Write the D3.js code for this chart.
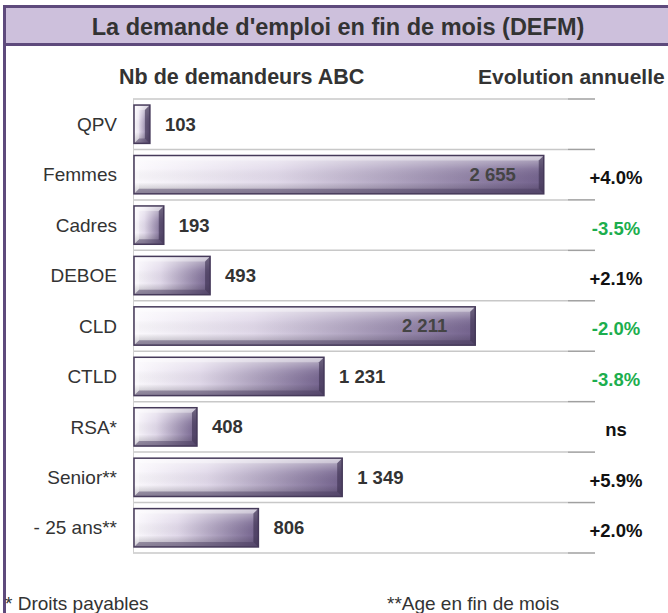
<!DOCTYPE html>
<html>
<head>
<meta charset="utf-8">
<script src="https://cdn.jsdelivr.net/npm/d3@7"></script>
<style>
  html, body { margin: 0; padding: 0; background: #fff; }
  svg { display: block; font-family: Arial, "Liberation Sans", sans-serif; }
</style>
</head>
<body>
<div id="chart"></div>
<script>
const categories = ['QPV', 'Femmes', 'Cadres', 'DEBOE', 'CLD', 'CTLD', 'RSA*', 'Senior**', '- 25 ans**'];
const values = [103, 2655, 193, 493, 2211, 1231, 408, 1349, 806];
const valueLabels = ['103', '2 655', '193', '493', '2 211', '1 231', '408', '1 349', '806'];
const evolutions = ['', '+4.0%', '-3.5%', '+2.1%', '-2.0%', '-3.8%', 'ns', '+5.9%', '+2.0%'];

const width = 668, height = 613;
const purple = '#5e4a7c';

const svg = d3.select('#chart').append('svg')
    .attr('width', width)
    .attr('height', height);

const defs = svg.append('defs');

// Horizontal shading: pale at the left, dark purple at the right end
const hGrad = defs.append('linearGradient').attr('id', 'barH')
    .attr('x1', 0).attr('x2', 1).attr('y1', 0).attr('y2', 0);
hGrad.append('stop').attr('offset', '0%').attr('stop-color', '#fbf9fd');
hGrad.append('stop').attr('offset', '35%').attr('stop-color', '#e0d8e9');
hGrad.append('stop').attr('offset', '100%').attr('stop-color', '#73628d');

// Vertical shine on top of it
const vGrad = defs.append('linearGradient').attr('id', 'barV')
    .attr('x1', 0).attr('x2', 0).attr('y1', 0).attr('y2', 1);
vGrad.append('stop').attr('offset', '0%').attr('stop-color', '#fff').attr('stop-opacity', 0.55);
vGrad.append('stop').attr('offset', '35%').attr('stop-color', '#fff').attr('stop-opacity', 0.1);
vGrad.append('stop').attr('offset', '70%').attr('stop-color', '#000').attr('stop-opacity', 0);
vGrad.append('stop').attr('offset', '100%').attr('stop-color', '#2a1f3a').attr('stop-opacity', 0.3);

// Frame: header box and left border
svg.append('rect')
    .attr('x', 4.5).attr('y', 6.5)
    .attr('width', width + 10).attr('height', 38)
    .attr('fill', '#cdc0dc')
    .attr('stroke', purple)
    .attr('stroke-width', 3);
svg.append('line')
    .attr('x1', 4.5).attr('x2', 4.5)
    .attr('y1', 44).attr('y2', height)
    .attr('stroke', purple)
    .attr('stroke-width', 3);

svg.append('text')
    .attr('x', 338).attr('y', 35)
    .attr('text-anchor', 'middle')
    .attr('font-size', '23.5px')
    .attr('font-weight', 'bold')
    .attr('fill', '#333')
    .text("La demande d'emploi en fin de mois (DEFM)");

// Column headers
svg.append('text')
    .attr('x', 119).attr('y', 84)
    .attr('font-size', '21.5px')
    .attr('font-weight', 'bold')
    .attr('fill', '#333')
    .text('Nb de demandeurs ABC');
svg.append('text')
    .attr('x', 478).attr('y', 84)
    .attr('font-size', '21px')
    .attr('font-weight', 'bold')
    .attr('fill', '#333')
    .text('Evolution annuelle');

// Scales
const x = d3.scaleLinear()
    .domain([0, 3000])
    .range([134, 597]);

const y = d3.scaleBand()
    .domain(categories)
    .range([99, 553])
    .paddingInner(0.24)
    .paddingOuter(0.12);

const step = y.step();

// Grid lines between rows
const gridY = d3.range(categories.length + 1).map(i => y.range()[0] + i * step);
svg.append('g')
    .selectAll('line')
    .data(gridY)
    .enter()
    .append('line')
    .attr('x1', 133).attr('x2', 568)
    .attr('y1', d => d).attr('y2', d => d)
    .attr('stroke', '#c8c8c8')
    .attr('stroke-width', 1.5);
svg.append('g')
    .selectAll('line')
    .data(gridY)
    .enter()
    .append('line')
    .attr('x1', 568).attr('x2', 595)
    .attr('y1', d => d).attr('y2', d => d)
    .attr('stroke', '#a0a0a0')
    .attr('stroke-width', 1.5);
svg.append('line')
    .attr('x1', 133.5).attr('x2', 133.5)
    .attr('y1', gridY[0]).attr('y2', gridY[gridY.length - 1])
    .attr('stroke', '#d0d0d0');

// Category labels
svg.append('g')
    .selectAll('text')
    .data(categories)
    .enter()
    .append('text')
    .attr('x', 117)
    .attr('y', d => y(d) + y.bandwidth() / 2)
    .attr('dy', '0.35em')
    .attr('text-anchor', 'end')
    .attr('font-size', '19px')
    .attr('fill', '#333')
    .text(d => d);

// Bevelled bars
const rows = categories.map((c, i) => ({cat: c, value: values[i], label: valueLabels[i], evo: evolutions[i]}));
const bev = 5;

const bars = svg.append('g')
    .selectAll('g')
    .data(rows)
    .enter()
    .append('g');

bars.append('rect')
    .attr('x', x(0))
    .attr('y', d => y(d.cat))
    .attr('width', d => x(d.value) - x(0))
    .attr('height', y.bandwidth())
    .attr('fill', 'url(#barH)');
bars.append('rect')
    .attr('x', x(0))
    .attr('y', d => y(d.cat))
    .attr('width', d => x(d.value) - x(0))
    .attr('height', y.bandwidth())
    .attr('fill', 'url(#barV)');

// top bevel
bars.append('polygon')
    .attr('points', d => {
        const x0 = x(0), x1 = x(d.value), y0 = y(d.cat);
        return [[x0, y0], [x1, y0], [x1 - bev, y0 + bev], [x0 + bev, y0 + bev]].join(' ');
    })
    .attr('fill', '#fff').attr('fill-opacity', 0.35);
// bottom bevel
bars.append('polygon')
    .attr('points', d => {
        const x0 = x(0), x1 = x(d.value), y1 = y(d.cat) + y.bandwidth();
        return [[x0, y1], [x1, y1], [x1 - bev, y1 - bev], [x0 + bev, y1 - bev]].join(' ');
    })
    .attr('fill', '#4a3c60').attr('fill-opacity', 0.45);
// left bevel
bars.append('polygon')
    .attr('points', d => {
        const x0 = x(0), y0 = y(d.cat), y1 = y0 + y.bandwidth();
        return [[x0, y0], [x0 + bev, y0 + bev], [x0 + bev, y1 - bev], [x0, y1]].join(' ');
    })
    .attr('fill', '#fff').attr('fill-opacity', 0.3);
// right bevel
bars.append('polygon')
    .attr('points', d => {
        const x1 = x(d.value), y0 = y(d.cat), y1 = y0 + y.bandwidth();
        return [[x1, y0], [x1, y1], [x1 - bev, y1 - bev], [x1 - bev, y0 + bev]].join(' ');
    })
    .attr('fill', '#3a2e4e').attr('fill-opacity', 0.6);
bars.append('rect')
    .attr('x', x(0))
    .attr('y', d => y(d.cat))
    .attr('width', d => x(d.value) - x(0))
    .attr('height', y.bandwidth())
    .attr('fill', 'none')
    .attr('stroke', '#463a5a')
    .attr('stroke-width', 1.5);

// Value labels: inside the long bars, outside the others
bars.append('text')
    .attr('x', d => d.value > 2000 ? x(d.value) - 28 : x(d.value) + 15)
    .attr('y', d => y(d.cat) + y.bandwidth() / 2)
    .attr('dy', '0.35em')
    .attr('text-anchor', d => d.value > 2000 ? 'end' : 'start')
    .attr('font-size', '18.5px')
    .attr('font-weight', 'bold')
    .attr('fill', d => d.value > 2000 ? '#444' : '#333')
    .text(d => d.label);

// Annual evolution column
svg.append('g')
    .selectAll('text')
    .data(rows)
    .enter()
    .append('text')
    .attr('x', 616)
    .attr('y', d => y(d.cat) + y.bandwidth() / 2 + 3)
    .attr('dy', '0.35em')
    .attr('text-anchor', 'middle')
    .attr('font-size', '18.5px')
    .attr('font-weight', 'bold')
    .attr('fill', d => d.evo.startsWith('-') ? '#1cae4e' : '#111')
    .text(d => d.evo);

// Footnotes
svg.append('text')
    .attr('x', 5).attr('y', 610)
    .attr('font-size', '19px')
    .attr('fill', '#333')
    .text('* Droits payables');
svg.append('text')
    .attr('x', 387).attr('y', 610)
    .attr('font-size', '19px')
    .attr('fill', '#333')
    .text('**Age en fin de mois');
</script>
</body>
</html>
